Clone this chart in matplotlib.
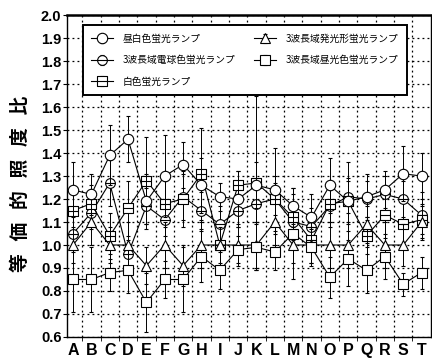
import matplotlib
matplotlib.use('Agg')
import matplotlib.pyplot as plt
from matplotlib.path import Path
from matplotlib.ticker import MultipleLocator, FixedLocator
import numpy as np

# categories on the x axis
categories = list('ABCDEFGHIJKLMNOPQRST')

# series
lamp_names = ['昼白色蛍光ランプ', '3波長域電球色蛍光ランプ', '白色蛍光ランプ',
              '3波長域発光形蛍光ランプ', '3波長域昼光色蛍光ランプ']

hiruhaku = [1.24, 1.22, 1.39, 1.46, 1.19, 1.30, 1.35, 1.26, 1.21, 1.20,
            1.26, 1.24, 1.17, 1.12, 1.26, 1.19, 1.21, 1.24, 1.31, 1.30]
hiruhaku_err = [0.12, 0.09, 0.13, 0.10, 0.12, 0.18, 0.10, 0.12, 0.06, 0.12,
                0.10, 0.18, 0.08, 0.10, 0.12, 0.17, 0.10, 0.08, 0.12, 0.10]

denkyu = [1.05, 1.14, 1.27, 0.96, 1.17, 1.11, 1.21, 1.15, 1.09, 1.15,
          1.18, 1.20, 1.10, 1.08, 1.17, 1.21, 1.20, 1.22, 1.20, 1.13]
denkyu_err = [0.08, 0.07, 0.10, 0.06, 0.08, 0.07, 0.10, 0.08, 0.08, 0.07,
              0.08, 0.07, 0.06, 0.08, 0.07, 0.07, 0.08, 0.08, 0.08, 0.10]

hakushoku = [1.15, 1.18, 1.04, 1.16, 1.28, 1.18, 1.20, 1.31, 1.00, 1.26,
             1.27, 1.20, 1.12, 1.02, 1.18, 1.19, 1.04, 1.13, 1.09, 1.11]
hakushoku_err = [0.10, 0.08, 0.10, 0.12, 0.19, 0.10, 0.12, 0.20, 0.10, 0.06,
                 0.38, 0.10, 0.10, 0.10, 0.10, 0.10, 0.08, 0.10, 0.10, 0.06]

hakko = [1.00, 1.10, 1.00, 1.00, 0.91, 1.00, 0.91, 1.00, 1.00, 1.00,
         1.00, 1.10, 1.00, 1.00, 1.00, 1.00, 1.09, 1.00, 1.00, 1.10]
hakko_err = [0.08, 0.10, 0.08, 0.10, 0.08, 0.10, 0.09, 0.10, 0.08, 0.09,
             0.10, 0.10, 0.08, 0.08, 0.10, 0.10, 0.08, 0.10, 0.09, 0.08]

chuko = [0.85, 0.85, 0.88, 0.89, 0.75, 0.85, 0.85, 0.95, 0.89, 0.98,
         0.99, 0.97, 1.05, 0.99, 0.86, 0.94, 0.89, 0.95, 0.83, 0.88]
chuko_err = [0.14, 0.14, 0.08, 0.10, 0.13, 0.08, 0.14, 0.11, 0.08, 0.06,
             0.10, 0.08, 0.20, 0.08, 0.09, 0.12, 0.10, 0.10, 0.05, 0.07]

# circle / square markers with a bar through them
bar = Path([(-1, 0), (1, 0)], [Path.MOVETO, Path.LINETO])
circle_bar = Path.make_compound_path(Path.unit_circle(), bar)
sq = Path([(-1, -1), (1, -1), (1, 1), (-1, 1), (-1, -1)],
          [Path.MOVETO, Path.LINETO, Path.LINETO, Path.LINETO, Path.CLOSEPOLY])
square_bar = Path.make_compound_path(sq, bar)

cjk = ['Noto Sans CJK JP', 'DejaVu Sans']

fig = plt.figure(figsize=(4.32, 3.6), dpi=100)
ax = fig.add_axes([0.155, 0.064, 0.842, 0.894])

x = np.arange(len(categories))
series = [
    (hiruhaku, hiruhaku_err, 'o', 7.5, 4),
    (denkyu, denkyu_err, circle_bar, 7, 3),
    (hakushoku, hakushoku_err, square_bar, 7, 3),
    (hakko, hakko_err, '^', 7.5, 4),
    (chuko, chuko_err, 's', 7.5, 4),
]
handles = []
for (vals, err, mk, ms, z), name in zip(series, lamp_names):
    h = ax.errorbar(x, vals, yerr=err, fmt='-', marker=mk, color='black',
                    mfc='white', mec='black', ms=ms, mew=0.8, lw=0.8,
                    elinewidth=0.7, capsize=1.5, capthick=0.7,
                    zorder=z, label=name)
    handles.append(h)

ax.set_xlim(-0.33, 19.5)
ax.set_ylim(0.6, 2.0)

ax.yaxis.set_major_locator(MultipleLocator(0.1))
ax.set_yticklabels(['%.1f' % v for v in ax.get_yticks()])
ax.set_xticks(x)
ax.set_xticklabels(categories)
ax.xaxis.set_minor_locator(FixedLocator(x[:-1] + 0.5))
ax.tick_params(axis='x', which='major', length=0, pad=4)
ax.tick_params(axis='x', which='minor', length=3, direction='out')
ax.tick_params(axis='y', length=3, direction='out', pad=1)
for lab in ax.get_xticklabels():
    lab.set_fontweight('bold')
    lab.set_fontsize(11.5)
    lab.set_family('Liberation Sans')
for lab in ax.get_yticklabels():
    lab.set_fontweight('bold')
    lab.set_fontsize(10.5)
    lab.set_family('Liberation Sans')

ax.grid(True, axis='y', which='major', ls=(0, (1.5, 2.5)), lw=0.9, color='black')
ax.grid(True, axis='x', which='minor', ls=(0, (1.5, 2.5)), lw=0.9, color='black')
for s in ax.spines.values():
    s.set_linewidth(1.0)
ax.spines['top'].set_linewidth(1.8)

leg = ax.legend(handles=handles, ncol=2, loc='upper left', mode='expand',
                bbox_to_anchor=(0.03, 0.758, 0.918, 0.226),
                prop={'family': cjk, 'size': 7},
                frameon=True, fancybox=False, edgecolor='black',
                framealpha=1, handlelength=2.2, handletextpad=1.0,
                borderpad=0.9, labelspacing=1.15)
leg.get_frame().set_linewidth(1.4)
leg.set_zorder(10)

fig.text(0.048, 0.49, '等   価   的   照   度   比', rotation=90, ha='center',
         va='center', family=cjk, fontsize=13.5, fontweight='bold')

fig.savefig('out.png', dpi=100)
